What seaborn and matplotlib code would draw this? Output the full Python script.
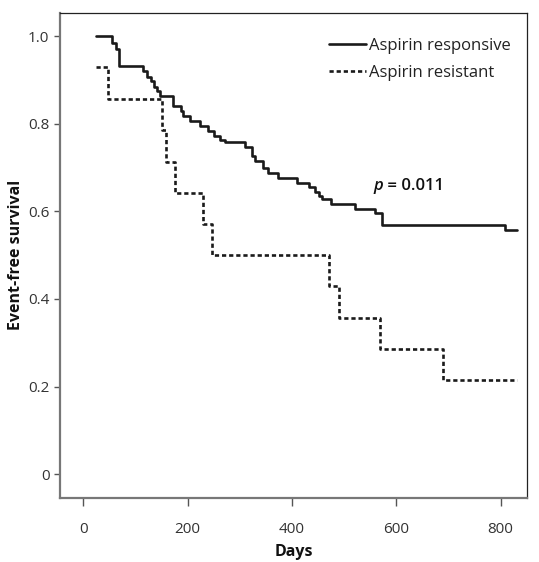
import numpy as np
import pandas as pd
import matplotlib
matplotlib.use("Agg")
import matplotlib.pyplot as plt
import seaborn as sns

# ---- data ----
resp_days = [25, 55, 63, 69, 114, 122, 129, 135, 141, 147, 172, 188, 191, 205, 224,
             240, 250, 262, 272, 310, 323, 330, 345, 355, 374, 410, 432, 445, 451,
             458, 474, 521, 560, 573, 809, 832]
resp_surv = [1.0, 0.985, 0.972, 0.932, 0.920, 0.908, 0.897, 0.885, 0.874, 0.863,
             0.840, 0.829, 0.818, 0.806, 0.795, 0.783, 0.772, 0.764, 0.758, 0.747,
             0.727, 0.716, 0.699, 0.687, 0.676, 0.666, 0.655, 0.645, 0.636, 0.628,
             0.616, 0.606, 0.597, 0.569, 0.558, 0.558]

res_days = [25, 47, 150, 158, 176, 229, 246, 472, 491, 568, 689, 832]
res_surv = [0.929, 0.857, 0.786, 0.714, 0.643, 0.571, 0.500, 0.429, 0.357,
            0.286, 0.214, 0.214]

groups = ["Aspirin responsive", "Aspirin resistant"]
x_ticks = [0, 200, 400, 600, 800]
y_ticks = [0, 0.2, 0.4, 0.6, 0.8, 1.0]
y_ticklabels = ["0", "0.2", "0.4", "0.6", "0.8", "1.0"]
p_label = "= 0.011"

df = pd.concat([
    pd.DataFrame({"Days": resp_days, "surv": resp_surv, "group": groups[0]}),
    pd.DataFrame({"Days": res_days, "surv": res_surv, "group": groups[1]}),
], ignore_index=True)

sns.set_theme(style="white")
plt.rcParams["font.family"] = ["Open Sans", "DejaVu Sans"]

fig = plt.figure(figsize=(5.39, 5.62), dpi=100)
ax = fig.add_axes([0.111, 0.1144, 0.867, 0.8630])

sns.lineplot(data=df, x="Days", y="surv", hue="group", style="group",
             hue_order=groups, style_order=groups,
             palette={groups[0]: "#1a1a1a", groups[1]: "#1a1a1a"},
             dashes={groups[0]: "", groups[1]: (1.6, 1.1)},
             drawstyle="steps-post", estimator=None, linewidth=1.9,
             ax=ax)

ax.set_xlim(-45, 851)
ax.set_ylim(-0.054, 1.054)
ax.set_xticks(x_ticks)
ax.set_yticks(y_ticks)
ax.set_yticklabels(y_ticklabels)
ax.tick_params(axis="both", which="both", direction="out", length=4.5,
               width=1.0, color="#555555", labelsize=11, labelcolor="#333333",
               bottom=True, left=True, pad=3)
ax.tick_params(axis="x", length=5.5, pad=12)

for side in ["left", "bottom"]:
    ax.spines[side].set_color("#777777")
    ax.spines[side].set_linewidth(1.6)
for side in ["top", "right"]:
    ax.spines[side].set_color("#222222")
    ax.spines[side].set_linewidth(0.9)

ax.set_xlabel("Days", fontsize=11.5, fontweight="bold", color="#111111", labelpad=5)
ax.set_ylabel("Event-free survival", fontsize=11.5, fontweight="bold",
              color="#111111", labelpad=3)

leg = ax.legend(loc="upper right", frameon=False, fontsize=12,
                handlelength=2.2, handletextpad=0.2, labelspacing=0.65,
                bbox_to_anchor=(0.99, 0.972), borderaxespad=0.3)
for t in leg.get_texts():
    t.set_color("#222222")

ptxt = ax.text(556, 0.658, "p", fontsize=12, style="italic", fontweight="semibold",
               color="#111111", va="center", ha="left")
ax.annotate(" " + p_label, xy=(1, 0), xycoords=ptxt, va="bottom", ha="left",
            fontsize=12, fontweight="semibold", color="#111111")

fig.savefig("out.png", dpi=100)
